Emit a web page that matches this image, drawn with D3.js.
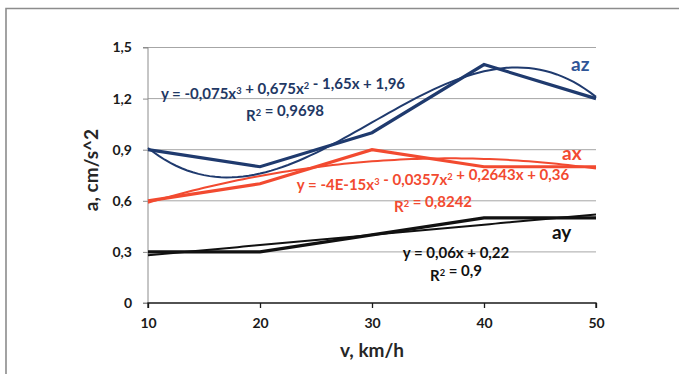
<!DOCTYPE html>
<html>
<head>
<meta charset="utf-8">
<script src="https://cdn.jsdelivr.net/npm/d3@7"></script>
<style>
  html, body { margin: 0; padding: 0; background: #fff; }
  svg { display: block; }
  text { font-family: Lato, "Open Sans", sans-serif; font-weight: bold; }
</style>
</head>
<body>
<svg id="chart" width="679" height="374"></svg>
<script>
// Speed categories (km/h)
const speeds = [10, 20, 30, 40, 50];
const yTicks = [0, 0.3, 0.6, 0.9, 1.2, 1.5];

// Measured accelerations per axis
const az = [0.9, 0.8, 1.0, 1.4, 1.2];
const ax = [0.6, 0.7, 0.9, 0.8, 0.8];
const ay = [0.3, 0.3, 0.4, 0.5, 0.5];

// Trendline coefficients (x = category index 1..5), highest power first
const azFit = [-0.075, 0.675, -1.65, 1.96];
const axFit = [-4e-15, -0.0357, 0.2643, 0.36];
const ayFit = [0.06, 0.22];

const svg = d3.select("#chart");
const W = 679, H = 374;

// Outer frame
svg.append("path")
  .attr("d", `M6,${H} V8.5 H${W}`)
  .attr("fill", "none").attr("stroke", "#8c8c8c").attr("stroke-width", 1.6);

const x = d3.scaleLinear().domain([10, 50]).range([148, 596]);
const y = d3.scaleLinear().domain([0, 1.5]).range([303, 47.5]);

// Horizontal gridlines
svg.append("g").selectAll("line")
  .data(yTicks.filter(d => d > 0))
  .join("line")
  .attr("x1", 148).attr("x2", 596)
  .attr("y1", d => y(d)).attr("y2", d => y(d))
  .attr("stroke", "#a6a6a6").attr("stroke-width", 1);

// Y axis
const yAxis = svg.append("g")
  .attr("transform", "translate(148,0)")
  .call(d3.axisLeft(y).tickValues(yTicks).tickSize(5)
    .tickFormat(d => d3.format(".1f")(d).replace(".", ",").replace(/^0,0$/, "0")));
yAxis.select(".domain").attr("stroke", "#8c8c8c").attr("d", `M-5,${y(0)}H0V${y(1.5)}H-5`);
yAxis.selectAll(".tick line").attr("stroke", "#8c8c8c");
yAxis.selectAll(".tick text")
  .attr("x", -16).attr("font-size", 14).attr("fill", "#1a1a1a")
  .style("font-family", "Lato, sans-serif").style("font-weight", "bold");

// X axis
const xAxis = svg.append("g")
  .attr("transform", `translate(0,${y(0)})`)
  .call(d3.axisBottom(x).tickValues(speeds).tickSize(5).tickFormat(d3.format("d")));
xAxis.select(".domain").attr("stroke", "#1a1a1a").attr("stroke-width", 1.3).attr("d", `M148,5V0H596V5`);
xAxis.selectAll(".tick line").attr("stroke", "#1a1a1a").attr("stroke-width", 1.3);
xAxis.selectAll(".tick text")
  .attr("y", 15).attr("font-size", 14).attr("fill", "#1a1a1a")
  .style("font-family", "Lato, sans-serif").style("font-weight", "bold");

// Axis titles
svg.append("text")
  .attr("transform", "translate(98,170) rotate(-90)")
  .attr("text-anchor", "middle").attr("font-size", 19).attr("fill", "#262626")
  .text("a, cm/s^2");
svg.append("text")
  .attr("x", 372).attr("y", 357)
  .attr("text-anchor", "middle").attr("font-size", 19).attr("fill", "#262626")
  .text("v, km/h");

const poly = (c, t) => c.reduce((acc, k) => acc * t + k, 0);

function trend(coefs) {
  const pts = d3.range(1, 5.001, 0.05).map(t => [10 * t, poly(coefs, t)]);
  return d3.line().x(d => x(d[0])).y(d => y(d[1])).curve(d3.curveLinear)(pts);
}
const dataLine = d3.line().x((d, i) => x(speeds[i])).y(d => y(d));

const series = [
  { vals: ay, fit: ayFit, color: "#111111" },
  { vals: ax, fit: axFit, color: "#f24a30" },
  { vals: az, fit: azFit, color: "#1f3a6e" }
];

series.forEach(s => {
  svg.append("path").attr("d", trend(s.fit))
    .attr("fill", "none").attr("stroke", s.color).attr("stroke-width", 2);
  svg.append("path").attr("d", dataLine(s.vals))
    .attr("fill", "none").attr("stroke", s.color).attr("stroke-width", 3.2)
    .attr("stroke-linejoin", "miter");
});

// Series names
svg.append("text").attr("x", 571).attr("y", 71).attr("font-size", 19).attr("fill", "#2f5597").text("az");
svg.append("text").attr("x", 562).attr("y", 160).attr("font-size", 19).attr("fill", "#f24a30").text("ax");
svg.append("text").attr("x", 552).attr("y", 239).attr("font-size", 19).attr("fill", "#111111").text("ay");

// Equation labels; "^" marks a superscript digit
function eq(str, cx, cy, color, size) {
  const t = svg.append("text").attr("x", cx).attr("y", cy)
    .attr("text-anchor", "middle").attr("font-size", size).attr("fill", color);
  str.split(/(\^\d)/).forEach(part => {
    if (part.startsWith("^")) {
      t.append("tspan").attr("dy", -5).attr("font-size", size * 0.62).text(part.slice(1));
      t.append("tspan").attr("dy", 5).text("");
    } else {
      t.append("tspan").text(part);
    }
  });
}
eq("y = -0,075x^3 + 0,675x^2 - 1,65x + 1,96", 283, 99, "#1f3864", 15);
eq("R^2 = 0,9698", 285, 121, "#1f3864", 15);
eq("y = -4E-15x^3 - 0,0357x^2 + 0,2643x + 0,36", 433, 190, "#f24a30", 15);
eq("R^2 = 0,8242", 433, 212, "#f24a30", 15);
eq("y = 0,06x + 0,22", 456, 258, "#111111", 15);
eq("R^2 = 0,9", 456, 281, "#111111", 15);
</script>
</body>
</html>
